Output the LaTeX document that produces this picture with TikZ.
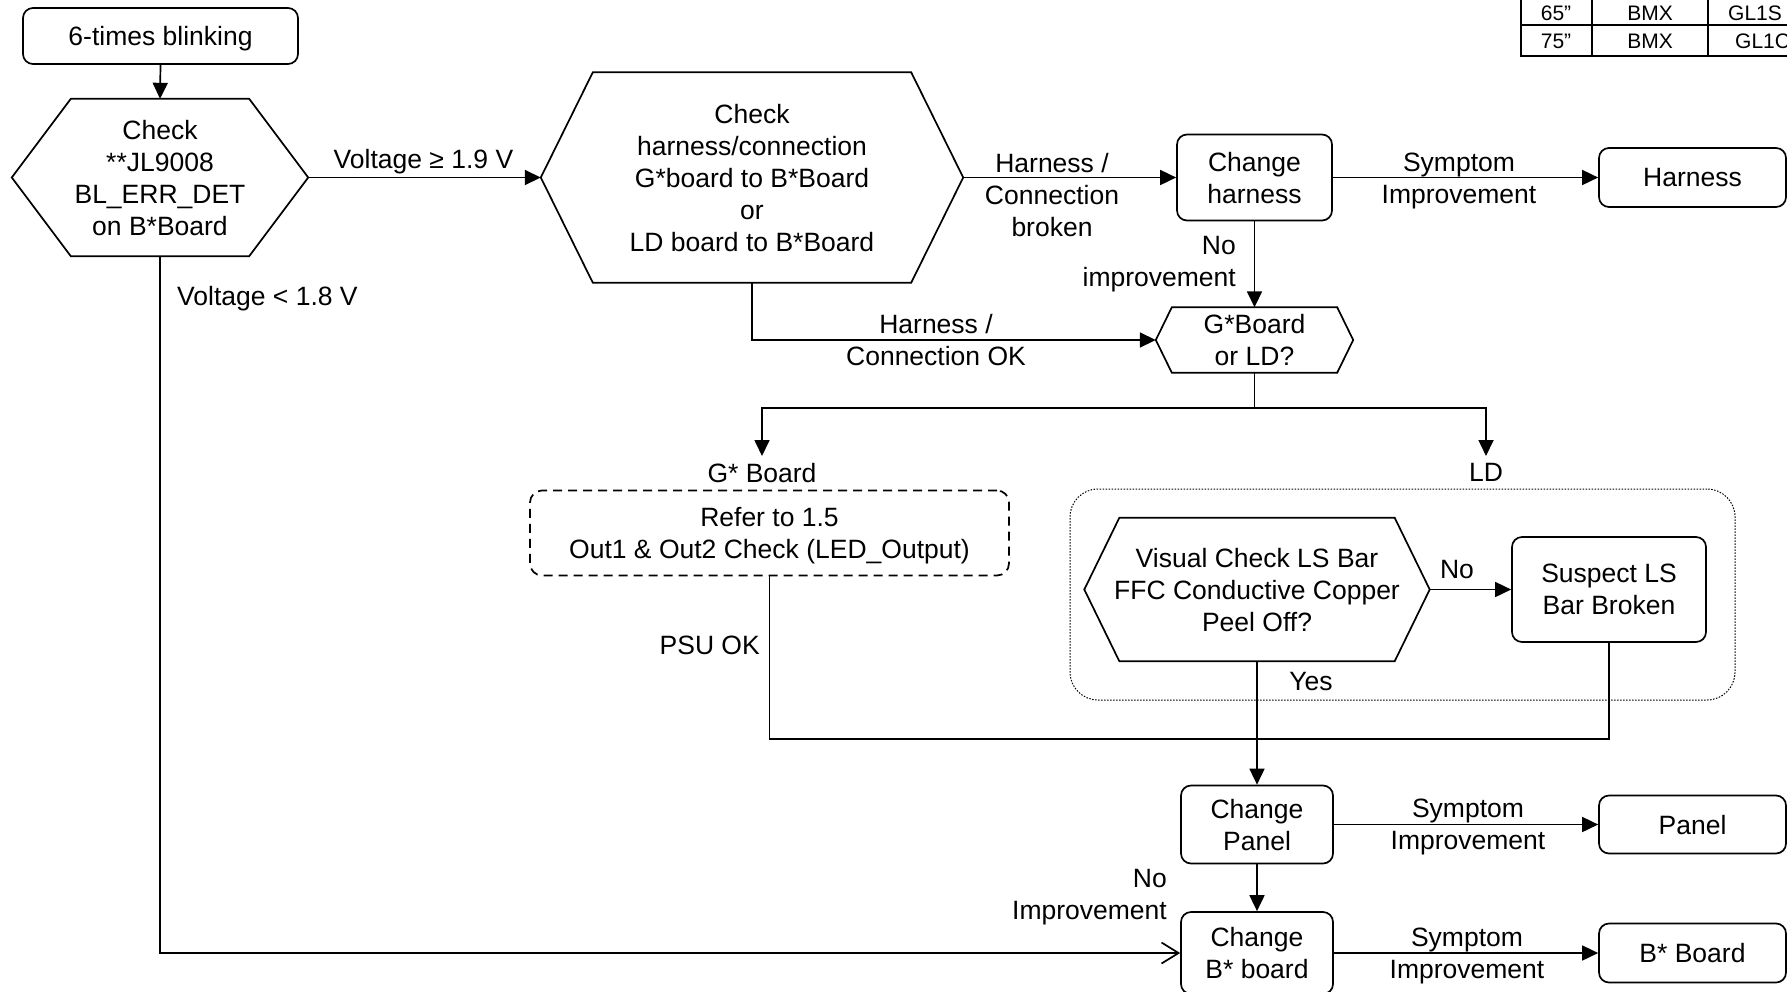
\documentclass[tikz,border=0pt]{standalone}
\usepackage{fontspec}
\setmainfont{Liberation Sans}
\usetikzlibrary{arrows.meta,calc}
\newcommand\hexpath[2]{\draw[ln] (#1.west) -- ([xshift=#2]#1.north west) -- ([xshift=-#2]#1.north east) -- (#1.east) -- ([xshift=-#2]#1.south east) -- ([xshift=#2]#1.south west) -- cycle;}
\begin{document}
\begin{tikzpicture}[x=1pt,y=-1pt,
  font=\fontsize{26.5}{32}\selectfont,
  every node/.style={text depth=0pt},
  ln/.style={line width=1.7pt, line join=miter},
  arr/.style={ln, -{Triangle[length=16pt,width=15pt]}},
  oarr/.style={ln, -{Straight Barb[length=17pt,width=21pt]}},
  box/.style={draw, ln, rounded corners=10pt, align=center, inner sep=0pt, text depth=-3pt},
  hex/.style={align=center, inner sep=0pt, text depth=-2pt},
  lbl/.style={align=center, inner sep=0pt},
  tab/.style={inner sep=0pt, font=\fontsize{21}{24}\selectfont},
  tline/.style={line width=2.5pt}
]
\useasboundingbox (0,0) rectangle (1787,991);
\clip (0,0) rectangle (1787,991);

% table (top right, cut by the page edge)
\draw[tline] (1521,-5) -- (1521,56);
\draw[tline] (1592,-5) -- (1592,56);
\draw[tline] (1708,-5) -- (1708,56);
\draw[tline] (1520,25) -- (1790,25);
\draw[tline] (1520,56) -- (1790,56);
\node[tab] (t1) at (1556,13) {65”};
\node[tab] (t2) at (1650,13) {BMX};
\node[tab, anchor=west] (t3) at (1728,13) {GL1S};
\node[tab] (t4) at (1556,41.5) {75”};
\node[tab] (t5) at (1650,41.5) {BMX};
\node[tab, anchor=west] (t6) at (1735,41.5) {GL1C};

% nodes
\node[box, minimum width=275pt, minimum height=56pt] (blink) at (160.5,36) {6-times blinking};
\node[hex, minimum width=296pt, minimum height=157pt] (h1) at (160,177.5) {Check\\**JL9008\\BL\_ERR\_DET\\on B*Board};
\hexpath{h1}{59pt}
\node[hex, minimum width=422pt, minimum height=210pt] (h2) at (752,177.5) {Check\\harness/connection\\G*board to B*Board\\or\\LD board to B*Board};
\hexpath{h2}{52pt}
\node[box, minimum width=155pt, minimum height=86pt] (chh) at (1254.5,177.5) {Change\\harness};
\node[box, minimum width=187pt, minimum height=59pt] (resH) at (1692.5,177.5) {Harness};
\node[hex, minimum width=197pt, minimum height=65pt] (gld) at (1254.5,340) {G*Board\\or LD?};
\hexpath{gld}{16pt}
\coordinate (br) at (1254.5,408);
\node[lbl, inner ysep=7pt, anchor=north] (lg) at (762,456) {G* Board};
\node[lbl, inner ysep=7pt, anchor=north] (lld) at (1486,456) {LD};
\node[box, dash pattern=on 9pt off 6pt, rounded corners=12pt, minimum width=479pt, minimum height=85pt] (dash) at (769.5,533) {Refer to 1.5\\Out1 \& Out2 Check (LED\_Output)};
\node[draw, line width=1pt, dash pattern=on 1.5pt off 1.5pt, rounded corners=28pt, minimum width=665pt, minimum height=211pt, inner sep=0pt] (grp) at (1402.5,594.5) {};
\node[hex, minimum width=345pt, minimum height=143pt] (ls) at (1257,589.5) {Visual Check LS Bar\\FFC Conductive Copper\\Peel Off?};
\hexpath{ls}{35pt}
\node[box, minimum width=194pt, minimum height=105pt] (sus) at (1609,589.5) {Suspect LS\\Bar Broken};
\coordinate (mj) at (1257,739);
\node[box, minimum width=152pt, minimum height=78pt] (chp) at (1257,824.5) {Change\\Panel};
\node[box, minimum width=187pt, minimum height=58pt] (resP) at (1692.5,824.5) {Panel};
\node[box, minimum width=152pt, minimum height=82pt] (chb) at (1257,953) {Change\\B* board};
\node[box, minimum width=187pt, minimum height=59pt] (resB) at (1692.5,953) {B* Board};

% labels
\node[lbl] (lv1) at (423.5,159) {Voltage ≥ 1.9 V};
\node[lbl, anchor=west] (lv2) at (177,296) {Voltage < 1.8 V};
\node[lbl] (lhb) at (1052,195) {Harness /\\Connection\\broken};
\node[lbl] (lsp1) at (1459,178.5) {Symptom\\Improvement};
\node[lbl, anchor=east, align=right] (lni1) at (1236,261.5) {No\\improvement};
\node[lbl] (lhok) at (936,340) {Harness /\\Connection OK};
\node[lbl] (lno) at (1457,569) {No};
\node[lbl] (lyes) at (1311,681) {Yes};
\node[lbl, anchor=east] (lpsu) at (760,645) {PSU OK};
\node[lbl] (lsp2) at (1468,824.5) {Symptom\\Improvement};
\node[lbl, anchor=east, align=right] (lni2) at (1167,894) {No\\Improvement};
\node[lbl] (lsp3) at (1467,953) {Symptom\\Improvement};

% connectors
\draw[arr] (blink.south) -- (h1.north);
\draw[arr] (h1.east) -- (h2.west);
\draw[arr] (h2.east) -- (chh.west);
\draw[arr] (chh.east) -- (resH.west);
\draw[arr] (chh.south) -- (gld.north);
\draw[arr] (h2.south) |- (gld.west);
\draw[ln] (gld.south) -- (br);
\draw[arr] (br) -| (lg.north);
\draw[arr] (br) -| (lld.north);
\draw[arr] (ls.east) -- (sus.west);
\draw[ln] (dash.south) |- (mj);
\draw[ln] (sus.south) |- (mj);
\draw[arr] (ls.south) -- (chp.north);
\draw[arr] (chp.east) -- (resP.west);
\draw[arr] (chp.south) -- (chb.north);
\draw[arr] (chb.east) -- (resB.west);
\draw[oarr] (h1.south) |- (chb.west);
\end{tikzpicture}
\end{document}
